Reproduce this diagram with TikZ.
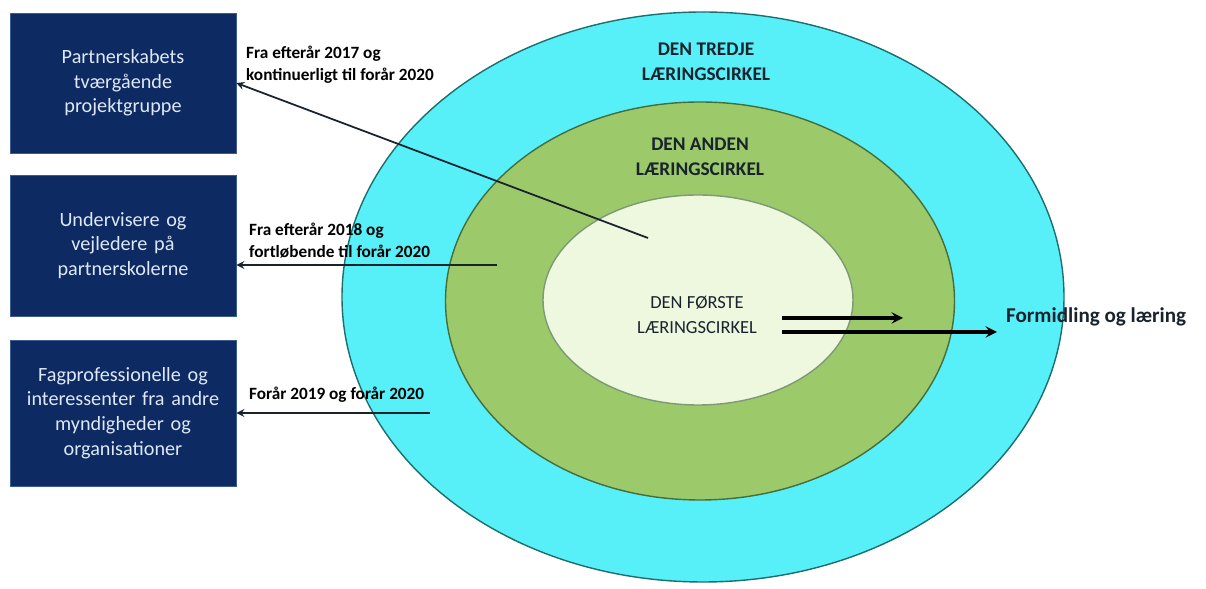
\documentclass[tikz,border=0pt]{standalone}
\usepackage{fontspec}
\setmainfont{Carlito}
\usepackage{tikz}
\usetikzlibrary{arrows,shapes,positioning}
\definecolor{lcnavy}{RGB}{13,42,98}
\definecolor{lcnavyedge}{RGB}{60,90,150}
\definecolor{lcboxtext}{RGB}{222,232,246}
\definecolor{lccyan}{RGB}{88,240,248}
\definecolor{lccyanedge}{RGB}{30,110,110}
\definecolor{lcgreen}{RGB}{156,201,106}
\definecolor{lcgreenedge}{RGB}{70,110,60}
\definecolor{lcpale}{RGB}{238,248,222}
\definecolor{lcdark}{RGB}{25,35,45}
\tikzstyle{groupbox} = [rectangle, minimum width=4.52cm, minimum height=2.82cm, text width=4.2cm, align=center, draw=lcnavyedge, fill=lcnavy, text=lcboxtext, font=\fontsize{11.5}{14}\selectfont]
\tikzstyle{ring} = [ellipse, thick]
\tikzstyle{ringtitle} = [align=center, text=lcdark, font=\bfseries\fontsize{11}{14}\selectfont]
\tikzstyle{period} = [anchor=west, align=left, text=black, font=\bfseries\fontsize{9.8}{12.5}\selectfont]
\tikzstyle{feed} = [line width=1pt,->,>=stealth,color=lcdark]
\tikzstyle{arrow} = [line width=1.8pt,->,>=stealth,color=black]

\begin{document}
\begin{tikzpicture}
\useasboundingbox (0,0) rectangle (24.12,11.78);
% Learning circles
\node[ring, draw=lccyanedge, fill=lccyan, minimum width=14.44cm, minimum height=11.4cm] (third) at (14.06,5.84) {};
\node[ring, draw=lcgreenedge, fill=lcgreen, minimum width=10.18cm, minimum height=7.96cm] (second) at (14.0,5.76) {};
\node[ring, draw=lcgreenedge!70, fill=lcpale, minimum width=6.2cm, minimum height=4.2cm] (first) at (13.96,5.78) {};

\node[ringtitle] (thirdtitle) at (14.12,10.54) {DEN TREDJE\\LÆRINGSCIRKEL};
\node[ringtitle] (secondtitle) at (14.0,8.64) {DEN ANDEN\\LÆRINGSCIRKEL};
\node[ringtitle, font=\fontsize{10.5}{14}\selectfont] (firsttitle) at (13.94,5.48) {DEN FØRSTE\\LÆRINGSCIRKEL};

% Groups
\node[groupbox, minimum height=2.8cm] (projekt) at (2.46,10.12) {Partnerskabets\\tværgående\\projektgruppe};
\node[groupbox] (skoler) at (2.46,6.87) {Undervisere og\\vejledere på\\partnerskolerne};
\node[groupbox, minimum height=2.92cm] (andre) at (2.46,3.52) {Fagprofessionelle og\\interessenter fra andre\\myndigheder og\\organisationer};

% Periods
\node[period] (per1) at (4.8,10.48) {Fra efterår 2017 og\\kontinuerligt til forår 2020};
\node[period] (per2) at (4.86,6.96) {Fra efterår 2018 og\\fortløbende til forår 2020};
\node[period] (per3) at (4.86,3.88) {Forår 2019 og forår 2020};

\coordinate (src1) at (12.96,7.02);
\coordinate (src2) at (9.94,6.48);
\coordinate (src3) at (8.6,3.52);
\draw[feed] (src1) -- (projekt.east);
\draw[feed] (src2) -- (skoler.east |- src2);
\draw[feed] (src3) -- (andre.east |- src3);

% Outcome
\node[anchor=west, text=lcdark, font=\bfseries\fontsize{12}{14}\selectfont] (learn) at (20.0,5.44) {Formidling og læring};
\coordinate (out1s) at (15.64,5.42);
\coordinate (out1e) at (18.06,5.42);
\coordinate (out2s) at (15.64,5.14);
\coordinate (out2e) at (19.94,5.14);
\draw[arrow] (out1s) -- (out1e);
\draw[arrow] (out2s) -- (out2e);
\end{tikzpicture}
\end{document}
